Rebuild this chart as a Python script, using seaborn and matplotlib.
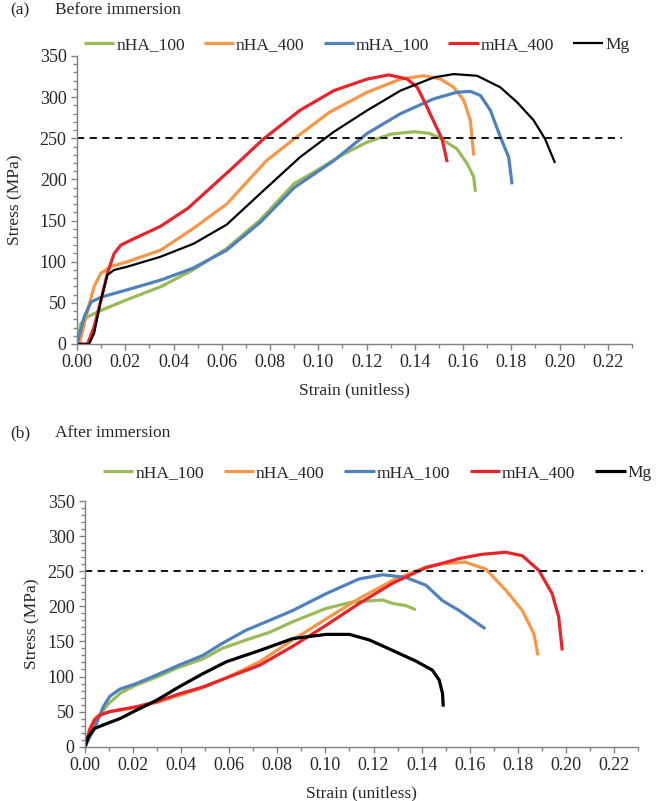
import numpy as np
import pandas as pd
import matplotlib
matplotlib.use("Agg")
import matplotlib.pyplot as plt
from matplotlib.ticker import MultipleLocator
import seaborn as sns

# ---- datos: (a) antes de inmersion ----
nha100_a_x = [0, 0.0016, 0.0044, 0.010, 0.020, 0.035, 0.048, 0.062, 0.076, 0.090, 0.100, 0.110, 0.120, 0.130, 0.1396, 0.146, 0.1506, 0.1575, 0.1617, 0.1644, 0.1651]
nha100_a_y = [0, 25, 33, 41, 53, 70, 90, 116, 151, 195, 212, 230, 245, 255, 258, 256, 250, 237, 219, 203, 185]

nha400_a_x = [0.001, 0.0044, 0.0071, 0.0099, 0.014, 0.0209, 0.0346, 0.048, 0.062, 0.0786, 0.0903, 0.1048, 0.1203, 0.1341, 0.1437, 0.1506, 0.1561, 0.1603, 0.163, 0.1644]
nha400_a_y = [0, 41, 70, 86, 94, 100, 114, 140, 170, 223, 250, 282, 306, 322, 326, 322, 312, 296, 272, 229]

mha100_a_x = [0, 0.003, 0.0058, 0.010, 0.021, 0.035, 0.048, 0.062, 0.076, 0.090, 0.100, 0.1065, 0.1203, 0.1341, 0.1479, 0.1575, 0.163, 0.1672, 0.1713, 0.1754, 0.1789, 0.1803]
mha100_a_y = [0, 33, 51, 57, 66, 78, 92, 114, 148, 190, 210, 223, 256, 280, 298, 306, 307, 302, 284, 252, 227, 194]

mha400_a_x = [0, 0.0044, 0.0071, 0.0099, 0.0126, 0.0154, 0.0181, 0.0236, 0.0346, 0.046, 0.0648, 0.0772, 0.0924, 0.1065, 0.1203, 0.1292, 0.1368, 0.141, 0.1444, 0.1479, 0.1513, 0.1534]
mha400_a_y = [0, 0, 21, 53, 86, 110, 120, 128, 143, 165, 215, 249, 284, 308, 322, 327, 322, 312, 292, 270, 249, 221]

mg_a_x = [0, 0.005, 0.0071, 0.0099, 0.0126, 0.0154, 0.0209, 0.0346, 0.0484, 0.062, 0.0786, 0.0924, 0.1065, 0.1203, 0.1341, 0.1479, 0.1561, 0.1658, 0.1754, 0.1823, 0.1892, 0.194, 0.1981]
mg_a_y = [0, 0, 13, 53, 84, 90, 94, 106, 122, 145, 190, 227, 258, 284, 308, 324, 328, 326, 312, 294, 272, 249, 220]

# ---- (b) despues de inmersion ----
nha100_b_x = [0, 0.003, 0.006, 0.010, 0.015, 0.0214, 0.0297, 0.039, 0.049, 0.057, 0.067, 0.0768, 0.0864, 0.1003, 0.111, 0.1238, 0.128, 0.1335, 0.1376]
nha100_b_y = [0, 30, 45, 62, 77, 88, 99, 113, 125, 140, 152, 163, 178, 197, 206, 209, 204, 201, 195]

nha400_b_x = [0, 0.002, 0.004, 0.0062, 0.0104, 0.0214, 0.0297, 0.039, 0.049, 0.0588, 0.0726, 0.0864, 0.1003, 0.114, 0.128, 0.1418, 0.1473, 0.158, 0.1667, 0.175, 0.1819, 0.1867, 0.1884]
nha400_b_y = [0, 26, 40, 46, 50, 56, 63, 73, 84, 98, 121, 152, 182, 211, 237, 256, 260, 263, 253, 223, 194, 161, 130]

mha100_b_x = [0, 0.0048, 0.0076, 0.0104, 0.0145, 0.0214, 0.0297, 0.039, 0.049, 0.057, 0.067, 0.0768, 0.0864, 0.1003, 0.114, 0.1238, 0.1335, 0.1418, 0.1487, 0.1556, 0.1665]
mha100_b_y = [0, 33, 57, 72, 82, 90, 102, 116, 130, 147, 166, 180, 194, 218, 239, 245, 241, 230, 208, 194, 168]

mha400_b_x = [0, 0.002, 0.004, 0.0062, 0.0104, 0.0214, 0.0297, 0.039, 0.049, 0.0588, 0.0726, 0.0864, 0.1003, 0.114, 0.128, 0.1418, 0.1473, 0.1556, 0.165, 0.175, 0.1819, 0.1888, 0.1943, 0.197, 0.1985]
mha400_b_y = [0, 24, 38, 45, 50, 57, 64, 75, 85, 98, 116, 143, 173, 204, 233, 255, 260, 268, 274, 277, 272, 251, 218, 185, 137]

mg_b_x = [0, 0.0014, 0.004, 0.0076, 0.0145, 0.0214, 0.0297, 0.039, 0.049, 0.0588, 0.0726, 0.0864, 0.1003, 0.110, 0.1183, 0.128, 0.1376, 0.1445, 0.1473, 0.1487, 0.149]
mg_b_y = [0, 14, 26, 31, 40, 52, 66, 85, 104, 121, 137, 154, 160, 160, 152, 137, 122, 109, 95, 76, 57]

nombres = ["nHA_100", "nHA_400", "mHA_100", "mHA_400", "Mg"]
colores = ["#9bbb59", "#f79646", "#4f81bd", "#e8232a", "#000000"]

antes = [(nha100_a_x, nha100_a_y), (nha400_a_x, nha400_a_y), (mha100_a_x, mha100_a_y),
         (mha400_a_x, mha400_a_y), (mg_a_x, mg_a_y)]
despues = [(nha100_b_x, nha100_b_y), (nha400_b_x, nha400_b_y), (mha100_b_x, mha100_b_y),
           (mha400_b_x, mha400_b_y), (mg_b_x, mg_b_y)]

sns.set_style("white")
plt.rcParams["font.family"] = ["Liberation Serif", "DejaVu Serif"]

W, H = 661, 801
fig = plt.figure(figsize=(W / 100, H / 100), dpi=100)


def panel(rect, series, lw_mg, dash_end, ylabelpad):
    ax = fig.add_axes(rect)
    for (xs, ys), nom, col in zip(series, nombres, colores):
        lw = lw_mg if nom == "Mg" else 2.3
        sns.lineplot(x=xs, y=ys, ax=ax, color=col, lw=lw, label=nom,
                     sort=False, estimator=None,
                     solid_joinstyle="round", solid_capstyle="butt")
    ax.plot([0, dash_end], [250, 250], ls=(0, (4, 3)), color="black", lw=1.3, clip_on=False)
    ax.set_xlim(0, 0.23)
    ax.set_ylim(0, 350)
    ax.xaxis.set_major_locator(MultipleLocator(0.02))
    ax.xaxis.set_minor_locator(MultipleLocator(0.01))
    ax.yaxis.set_major_locator(MultipleLocator(50))
    ax.yaxis.set_minor_locator(MultipleLocator(10))
    ax.xaxis.set_major_formatter(lambda v, p: f"{v:.2f}" if v < 0.225 else "")
    for s in ["top", "right"]:
        ax.spines[s].set_visible(False)
    for s in ["left", "bottom"]:
        ax.spines[s].set_color("#808080")
        ax.spines[s].set_linewidth(1.0)
    ax.tick_params(which="major", direction="out", length=4, width=1, color="#808080",
                   labelsize=13, bottom=True, left=True)
    ax.tick_params(which="minor", direction="out", length=3, width=1, color="#808080",
                   bottom=True, left=True)
    ax.set_xlabel("Strain (unitless)", fontsize=12.5, labelpad=8)
    ax.set_ylabel("Stress (MPa)", fontsize=12.5, labelpad=ylabelpad)
    ax.get_legend().remove()
    return ax


ax1 = panel([77 / W, 1 - 344 / H, 555 / W, 288 / H], antes, 1.6, 0.226, 12)
ax2 = panel([85 / W, 1 - 746.7 / H, 553 / W, 245.7 / H], despues, 2.3, 0.232, 5)

h, l = ax1.get_legend_handles_labels()
fig.legend(h[:5], l[:5], loc="center left", bbox_to_anchor=(84 / W, 1 - 45 / H),
           ncol=5, frameon=False, fontsize=12.5, handlelength=1.75, handletextpad=0.1,
           columnspacing=1.1, borderpad=0, borderaxespad=0)
h, l = ax2.get_legend_handles_labels()
fig.legend(h[:5], l[:5], loc="center left", bbox_to_anchor=(103 / W, 1 - 473 / H),
           ncol=5, frameon=False, fontsize=12.5, handlelength=1.75, handletextpad=0.1,
           columnspacing=1.15, borderpad=0, borderaxespad=0)

fig.text(10 / W, 1 - 10 / H, "(a)", fontsize=12.5, va="center", ha="left")
fig.text(55 / W, 1 - 10 / H, "Before immersion", fontsize=12.5, va="center", ha="left")
fig.text(10 / W, 1 - 433 / H, "(b)", fontsize=12.5, va="center", ha="left")
fig.text(55 / W, 1 - 433 / H, "After immersion", fontsize=12.5, va="center", ha="left")

fig.savefig("out.png", dpi=100)
